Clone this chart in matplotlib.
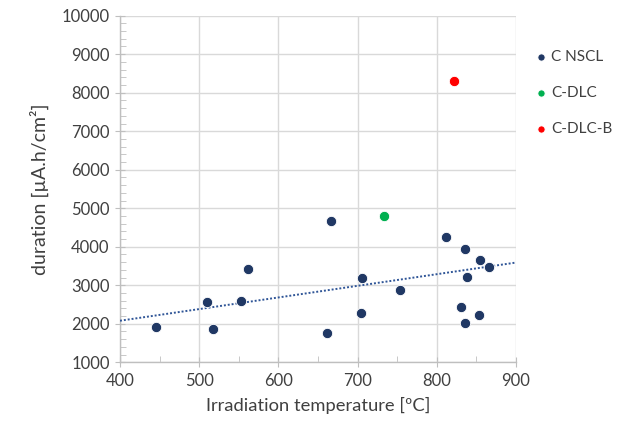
import matplotlib
matplotlib.use("Agg")
import matplotlib.pyplot as plt
from matplotlib.ticker import MultipleLocator

plt.rcParams["font.family"] = ["Lato", "DejaVu Sans"]

# C NSCL samples: irradiation temperature [ºC], duration [µA.h/cm²]
nscl_temp = [446, 510, 517, 553, 562, 667, 661, 704, 706, 754,
             812, 835, 855, 866, 838, 831, 853, 836]
nscl_dur = [1920, 2560, 1870, 2580, 3430, 4680, 1750, 2270, 3190, 2890,
            4255, 3950, 3650, 3480, 3215, 2445, 2230, 2015]

dlc_temp = [733]
dlc_dur = [4810]

dlcb_temp = [822]
dlcb_dur = [8300]

trend_temp = [400, 900]
trend_dur = [2080, 3590]

NAVY = "#203864"
GREEN = "#00B050"
RED = "#FF0000"
GRID = "#D9D9D9"
AXIS = "#BFBFBF"
TEXT = "#404040"

fig = plt.figure(figsize=(6.19, 4.24), dpi=100)
ax = fig.add_axes([0.1939, 0.1455, 0.6397, 0.8175])

ax.scatter(nscl_temp, nscl_dur, s=55, color=NAVY, edgecolor="white",
           linewidth=0.6, zorder=4, label="C NSCL")
ax.scatter(dlc_temp, dlc_dur, s=55, color=GREEN, edgecolor="white",
           linewidth=0.6, zorder=4, label="C-DLC")
ax.scatter(dlcb_temp, dlcb_dur, s=55, color=RED, edgecolor="white",
           linewidth=0.6, zorder=4, label="C-DLC-B")

ax.plot(trend_temp, trend_dur, color="#2F5597", linestyle=(0, (1, 1)),
        linewidth=1.4, zorder=3)

ax.set_xlim(400, 900)
ax.set_ylim(1000, 10000)
ax.xaxis.set_major_locator(MultipleLocator(100))
ax.xaxis.set_minor_locator(MultipleLocator(50))
ax.yaxis.set_major_locator(MultipleLocator(1000))
ax.yaxis.set_minor_locator(MultipleLocator(200))

ax.grid(True, which="major", color=GRID, linewidth=1.0, zorder=0)
ax.set_axisbelow(True)
for side in ["top", "right"]:
    ax.spines[side].set_visible(False)
for side in ["left", "bottom"]:
    ax.spines[side].set_color(AXIS)
    ax.spines[side].set_linewidth(1.0)

ax.tick_params(which="major", direction="inout", length=7, color=AXIS,
               labelsize=12, labelcolor=TEXT, pad=4)
ax.tick_params(which="minor", direction="in", length=4, color=AXIS)

ax.set_xlabel("Irradiation temperature [ºC]", fontsize=13.2, color=TEXT,
              labelpad=6)
ax.set_ylabel("duration [µA.h/cm²]", fontsize=14, color=TEXT, labelpad=9)

fig.legend(loc="upper left", bbox_to_anchor=(0.84, 0.915), frameon=False,
           fontsize=11, markerscale=0.7, handletextpad=0.15,
           labelspacing=1.45, labelcolor=TEXT, handlelength=1.0)

fig.savefig("out.png", dpi=100)
